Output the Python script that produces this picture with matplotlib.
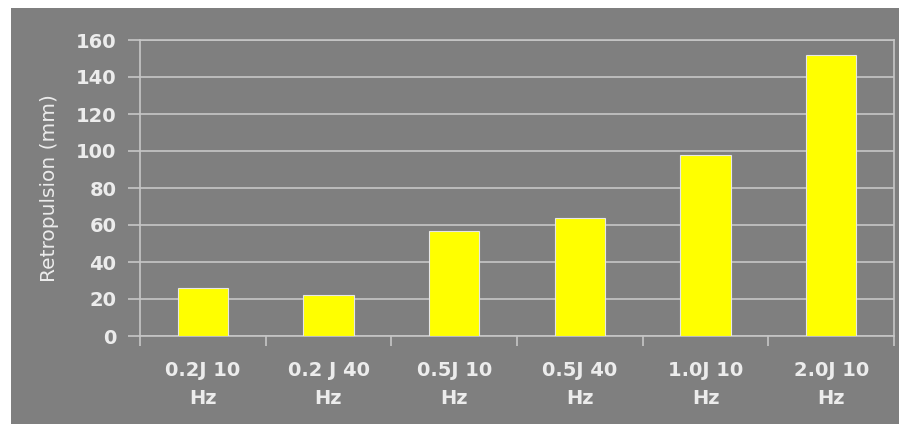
import numpy as np
import matplotlib
matplotlib.use('Agg')
import matplotlib.pyplot as plt
from matplotlib.patches import Rectangle

# Data
categories = ['0.2J 10\nHz', '0.2 J 40\nHz', '0.5J 10\nHz', '0.5J 40\nHz', '1.0J 10\nHz', '2.0J 10\nHz']
retropulsion = [26, 22, 57, 64, 98, 152]
y_ticks = [0, 20, 40, 60, 80, 100, 120, 140, 160]

bg = '#7f7f7f'
line_col = '#c6c6c6'
text_col = '#ececec'

fig = plt.figure(figsize=(8.99, 4.24), dpi=100, facecolor='white')

# Gray chart area panel (behind the axes)
fig.add_artist(Rectangle((11 / 899, 0), 1 - 11 / 899, 416 / 424,
                         transform=fig.transFigure, facecolor=bg,
                         edgecolor='none', zorder=-5))

ax = fig.add_axes([140 / 899, 88 / 424, 754 / 899, 296 / 424])
ax.set_zorder(1)
ax.set_facecolor(bg)

x = np.arange(len(categories))
ax.bar(x, retropulsion, width=0.4, color='#ffff00', edgecolor='#e6e6e6',
       linewidth=0.8, zorder=3)

ax.set_xlim(-0.5, len(categories) - 0.5)
ax.set_ylim(0, 160)
ax.set_yticks(y_ticks)
ax.yaxis.grid(True, color=line_col, linewidth=1.2, zorder=1)
ax.set_axisbelow(True)

# category labels centered, tick marks at the boundaries
ax.set_xticks(x)
ax.set_xticklabels(categories, fontsize=14, fontweight='bold', color=text_col,
                   linespacing=1.6)
ax.tick_params(axis='x', which='major', length=0, pad=18)
ax.set_xticks(np.arange(len(categories) + 1) - 0.5, minor=True)
ax.tick_params(axis='x', which='minor', length=7, width=1.2, color=line_col, direction='out')

ax.tick_params(axis='y', length=9, width=1.2, color=line_col, pad=8,
               labelsize=14, labelcolor=text_col)
for lbl in ax.get_yticklabels():
    lbl.set_fontweight('bold')

for s in ax.spines.values():
    s.set_color(line_col)
    s.set_linewidth(1.2)

ax.set_ylabel('Retropulsion (mm)', fontsize=14.5, color=text_col, labelpad=12)

fig.savefig('out.png', dpi=100, facecolor='white')
